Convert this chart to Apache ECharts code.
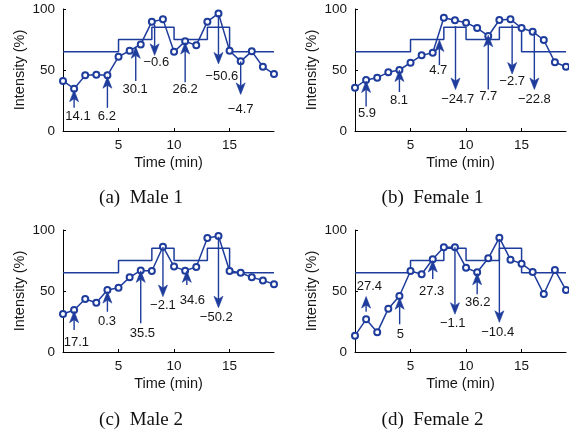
<!DOCTYPE html>
<html><head><meta charset="utf-8">
<script src="https://cdn.jsdelivr.net/npm/echarts@6/dist/echarts.min.js"></script>
<style>html,body{margin:0;padding:0;background:#fff}#c{width:569px;height:433px}</style>
</head><body><div id="c"></div>
<script>
// ---------- data ----------
const minutes = [0,1,2,3,4,5,6,7,8,9,10,11,12,13,14,15,16,17,18,19];
const male1   = [41,34.7,45.6,46.2,45.6,60.9,65.8,71,89.6,91.5,65,73.5,70.2,89.6,96.4,65.8,57.1,65.3,52.7,46.7];
const female1 = [35.5,41.8,43.7,48.1,50,56,62,64.2,92.9,90.7,88.8,84.4,77.9,91,91.5,84.4,81.4,74.6,56.3,52.7];
const male2   = [31.1,34.4,43.4,40.4,50.8,52.7,61.2,66.9,66.4,86.3,70,66.7,69.7,93.4,95.1,66.4,65,61.2,58.7,55.5];
const female2 = [13.4,26.8,16.1,35.5,45.9,66.4,63.7,76,85.8,85.8,69.1,65.3,76.8,93.7,75.7,72.4,65.6,47.5,67.2,50.8];

// target intensity profile (step changes)
const targetTimes  = [0,5,8,10,13,15,19];
const targetLevels = [65,75,85,75,85,65,65];

// arrows: [time, from, to, labelTime, labelValue]
const arrowsMale1 = [[1,19,33.5,1.35,11.7],[4,19,44.5,3.95,11.7],[6.55,41,69,6.5,34],[8.25,87,62,8.4,56],[11,40,72.5,11,34.2],[14,95,55,14.3,45],[16,57,30,16,18]];
const labelsMale1 = ['14.1','6.2','30.1','\u22120.6','26.2','\u221250.6','\u22124.7'];
const arrowsFemale1 = [[1,20,41,1.08,14],[4,32,50,3.96,25.4],[7.6,54,74.6,7.5,50],[9.05,86,34,9.25,26],[12,34,78.5,12,28],[14.15,87,46.7,14.15,40.4],[16.15,81.5,34,16.15,26]];
const labelsFemale1 = ['5.9','8.1','4.7','\u221224.7','7.7','\u22122.7','\u221222.8'];
const arrowsMale2 = [[1,18,33.5,1.2,8],[4,33,49.5,3.96,25.4],[7,23.5,66.5,7.15,15.3],[9,86,45.4,9,38.5],[11.15,55,66.5,11.65,42.6],[14,94.5,36.3,13.8,28.1]];
const labelsMale2 = ['17.1','0.3','35.5','\u22122.1','34.6','\u221250.2'];
const arrowsFemale2 = [[1,33,45.4,1.3,53.6],[4.02,22.7,44.5,4.08,14],[7,59.8,75,6.9,49.5],[9,85.8,31,8.8,23.5],[11,47.3,64.5,11.05,40.7],[13,92.6,24.3,12.85,16.1]];
const labelsFemale2 = ['27.4','5','27.3','\u22121.1','36.2','\u221210.4'];

const captions = ['(a)  Male 1','(b)  Female 1','(c)  Male 2','(d)  Female 2'];
const xTickLabels = [5,10,15];
const yTickValues = [0,50,100];

// ---------- chart ----------
const BLUE = '#1e3c9c';
const TXT = '#161616';
const SANS = '"Liberation Sans", Arial, Helvetica, sans-serif';
const panels = [
  {vals: male1,   arrows: arrowsMale1,   labels: labelsMale1,   left: 63,  top: 9},
  {vals: female1, arrows: arrowsFemale1, labels: labelsFemale1, left: 355, top: 9},
  {vals: male2,   arrows: arrowsMale2,   labels: labelsMale2,   left: 63,  top: 230},
  {vals: female2, arrows: arrowsFemale2, labels: labelsFemale2, left: 355, top: 230}
];

function arrowRenderer(labels) {
  return function (params, api) {
    const x = api.value(0), y0 = api.value(1), y1 = api.value(2);
    const p0 = api.coord([x, y0]), tip = api.coord([x, y1]);
    const lp = api.coord([api.value(3), api.value(4)]);
    const d = tip[1] > p0[1] ? 1 : -1;
    const hl = 11.5, hw = 4.5, notch = 8.5;
    return {
      type: 'group',
      children: [
        {type: 'line', shape: {x1: p0[0], y1: p0[1], x2: tip[0], y2: tip[1] - d * notch},
         style: {stroke: BLUE, lineWidth: 1.4}},
        {type: 'polygon', shape: {points: [[tip[0], tip[1]], [tip[0] - hw, tip[1] - d * hl],
          [tip[0], tip[1] - d * notch], [tip[0] + hw, tip[1] - d * hl]]},
         style: {fill: BLUE, stroke: BLUE, lineWidth: 0.6}},
        {type: 'text', x: lp[0], y: lp[1],
         style: {text: labels[params.dataIndex], align: 'center', verticalAlign: 'middle',
                 font: '13px ' + SANS, fill: TXT}}
      ]
    };
  };
}

const grid = [], xAxis = [], yAxis = [], series = [];
panels.forEach((p, i) => {
  grid.push({left: p.left, top: p.top, width: 211, height: 122, containLabel: false, outerBoundsMode: 'none'});
  xAxis.push({
    type: 'value', gridIndex: i, min: 0, max: 19, interval: 5,
    axisLine: {lineStyle: {color: '#000', width: 1}},
    axisTick: {inside: true, length: 3, lineStyle: {color: '#000'}, customValues: [0, 5, 10, 15]},
    axisLabel: {customValues: xTickLabels, fontSize: 13.5, color: TXT, margin: 7, fontFamily: SANS},
    splitLine: {show: false},
    name: 'Time (min)', nameLocation: 'middle', nameGap: 24,
    nameTextStyle: {fontSize: 14.5, color: TXT, fontFamily: SANS}
  });
  yAxis.push({
    type: 'value', gridIndex: i, min: 0, max: 100, interval: 50,
    axisLine: {show: true, lineStyle: {color: '#000', width: 1}},
    axisTick: {show: true, inside: true, length: 3, lineStyle: {color: '#000'}},
    axisLabel: {customValues: yTickValues, fontSize: 13.5, color: TXT, margin: 8, fontFamily: SANS},
    splitLine: {show: false},
    name: 'Intensity (%)', nameLocation: 'middle', nameGap: 36,
    nameTextStyle: {fontSize: 14.5, color: TXT, fontFamily: SANS}
  });
  series.push({
    type: 'line', xAxisIndex: i, yAxisIndex: i, step: 'end', symbol: 'none', silent: true,
    data: targetTimes.map((t, k) => [t, targetLevels[k]]),
    lineStyle: {color: BLUE, width: 1.5}, z: 2
  });
  series.push({
    type: 'line', xAxisIndex: i, yAxisIndex: i, symbol: 'emptyCircle', symbolSize: 6,
    data: minutes.map((t, k) => [t, p.vals[k]]),
    lineStyle: {color: BLUE, width: 1.5},
    itemStyle: {color: BLUE, borderColor: BLUE, borderWidth: 1.2}, z: 3
  });
  series.push({
    type: 'custom', xAxisIndex: i, yAxisIndex: i, clip: false, z: 4,
    renderItem: arrowRenderer(p.labels),
    data: p.arrows
  });
});

const graphic = captions.map((c, i) => ({
  type: 'text',
  x: i % 2 === 0 ? 141 : 432.5,
  y: i < 2 ? 198 : 420,
  style: {text: c, align: 'center', verticalAlign: 'middle',
          font: '19px "Liberation Serif", "Times New Roman", serif', fill: '#111'}
}));

const chart = echarts.init(document.getElementById('c'), null, {renderer: 'canvas'});
chart.setOption({animation: false, backgroundColor: '#fff', grid, xAxis, yAxis, series, graphic});
</script>
</body></html>
